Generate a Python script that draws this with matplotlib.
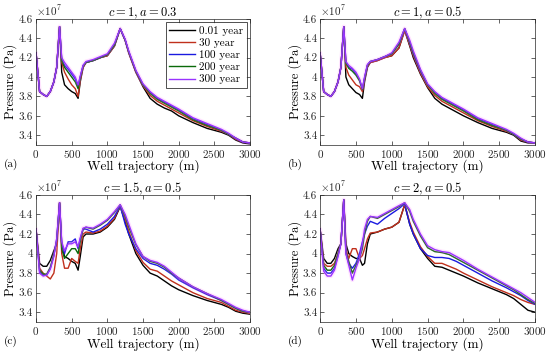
import numpy as np
import matplotlib
matplotlib.use('Agg')
import matplotlib.pyplot as plt

plt.rcParams['font.family'] = 'cmr10'
plt.rcParams['mathtext.fontset'] = 'cm'
plt.rcParams['axes.formatter.use_mathtext'] = True
plt.rcParams['axes.unicode_minus'] = False

# well trajectory nodes (m)
x = [0, 50, 100, 150, 200, 250, 290, 330, 360, 400, 450, 500, 550, 590, 620, 660, 700,
     800, 900, 1000, 1100, 1180, 1250, 1300, 1400, 1500, 1600, 1700, 1800, 1900, 2000,
     2200, 2400, 2600, 2700, 2800, 2900, 3000]

labels = ['0.01 year', '30 year', '100 year', '200 year', '300 year']
colors = ['#000000', '#c0301c', '#1a1ae0', '#0a6a0a', '#9933ff']
titles = ['$c=1, a=0.3$', '$c=1, a=0.5$', '$c=1.5, a=0.5$', '$c=2, a=0.5$']
tags = ['(a)', '(b)', '(c)', '(d)']
ytick_vals = [3.4, 3.6, 3.8, 4.0, 4.2, 4.4, 4.6]
ytick_text = ['3.4', '3.6', '3.8', '4', '4.2', '4.4', '4.6']

# pressure, x1e7 Pa
a_black = [4.25, 3.85, 3.82, 3.80, 3.85, 3.95, 4.10, 4.52, 4.05, 3.92, 3.88, 3.85, 3.83, 3.78, 3.95, 4.10, 4.15,
           4.17, 4.20, 4.22, 4.32, 4.50, 4.38, 4.25, 4.05, 3.90, 3.78, 3.72, 3.68, 3.65, 3.60,
           3.53, 3.47, 3.43, 3.40, 3.35, 3.32, 3.31]
a_red = [4.25, 3.85, 3.82, 3.80, 3.85, 3.95, 4.10, 4.52, 4.15, 4.05, 3.98, 3.92, 3.88, 3.80, 3.97, 4.10, 4.15,
         4.17, 4.20, 4.22, 4.32, 4.50, 4.38, 4.25, 4.05, 3.91, 3.81, 3.75, 3.71, 3.67, 3.63,
         3.55, 3.49, 3.44, 3.41, 3.36, 3.33, 3.32]
a_blue = [4.25, 3.85, 3.82, 3.80, 3.85, 3.95, 4.10, 4.52, 4.18, 4.12, 4.08, 4.03, 3.98, 3.90, 4.00, 4.12, 4.15,
          4.17, 4.20, 4.23, 4.33, 4.50, 4.38, 4.26, 4.06, 3.92, 3.84, 3.78, 3.74, 3.70, 3.66,
          3.57, 3.51, 3.45, 3.41, 3.37, 3.33, 3.32]
a_green = [4.25, 3.85, 3.82, 3.80, 3.85, 3.95, 4.10, 4.52, 4.17, 4.10, 4.05, 4.00, 3.95, 3.88, 3.99, 4.11, 4.15,
           4.17, 4.20, 4.23, 4.33, 4.50, 4.38, 4.26, 4.06, 3.92, 3.83, 3.77, 3.73, 3.69, 3.65,
           3.56, 3.50, 3.45, 3.41, 3.37, 3.33, 3.32]
a_purple = [4.25, 3.85, 3.82, 3.80, 3.85, 3.95, 4.10, 4.52, 4.20, 4.15, 4.10, 4.05, 4.00, 3.92, 4.01, 4.12, 4.16,
            4.18, 4.21, 4.24, 4.35, 4.50, 4.39, 4.27, 4.07, 3.93, 3.85, 3.79, 3.75, 3.71, 3.67,
            3.58, 3.52, 3.46, 3.42, 3.37, 3.33, 3.32]

b_black = [4.25, 3.85, 3.82, 3.80, 3.85, 3.95, 4.10, 4.52, 4.00, 3.92, 3.88, 3.84, 3.82, 3.78, 3.95, 4.10, 4.15,
           4.17, 4.20, 4.22, 4.30, 4.48, 4.32, 4.20, 4.03, 3.89, 3.78, 3.72, 3.68, 3.64, 3.60,
           3.53, 3.47, 3.43, 3.40, 3.34, 3.32, 3.32]
b_red = [4.25, 3.85, 3.82, 3.80, 3.85, 3.95, 4.10, 4.52, 4.10, 4.02, 3.97, 3.92, 3.90, 3.85, 3.97, 4.11, 4.15,
         4.17, 4.20, 4.22, 4.30, 4.48, 4.33, 4.22, 4.04, 3.90, 3.81, 3.75, 3.71, 3.67, 3.63,
         3.55, 3.49, 3.44, 3.41, 3.35, 3.33, 3.32]
b_blue = [4.25, 3.85, 3.82, 3.80, 3.85, 3.95, 4.10, 4.52, 4.15, 4.10, 4.08, 4.03, 3.97, 3.88, 3.99, 4.12, 4.16,
          4.18, 4.21, 4.24, 4.34, 4.50, 4.35, 4.24, 4.06, 3.92, 3.84, 3.78, 3.74, 3.70, 3.66,
          3.57, 3.51, 3.45, 3.41, 3.36, 3.33, 3.32]
b_green = [4.25, 3.85, 3.82, 3.80, 3.85, 3.95, 4.10, 4.52, 4.14, 4.09, 4.06, 4.02, 3.96, 3.87, 3.98, 4.12, 4.16,
           4.18, 4.21, 4.24, 4.34, 4.50, 4.36, 4.25, 4.07, 3.92, 3.83, 3.77, 3.73, 3.69, 3.65,
           3.56, 3.50, 3.45, 3.41, 3.36, 3.33, 3.32]
b_purple = [4.25, 3.85, 3.82, 3.80, 3.85, 3.95, 4.10, 4.52, 4.16, 4.12, 4.09, 4.05, 3.98, 3.88, 4.00, 4.13, 4.16,
            4.18, 4.21, 4.25, 4.36, 4.50, 4.38, 4.27, 4.08, 3.93, 3.85, 3.79, 3.75, 3.71, 3.67,
            3.58, 3.52, 3.46, 3.42, 3.37, 3.33, 3.32]

c_black = [4.25, 3.90, 3.87, 3.87, 3.93, 4.03, 4.10, 4.52, 4.10, 3.97, 3.95, 3.92, 3.90, 3.83, 3.97, 4.17, 4.20,
           4.20, 4.22, 4.27, 4.35, 4.48, 4.33, 4.20, 4.00, 3.88, 3.80, 3.77, 3.72, 3.67, 3.63,
           3.57, 3.52, 3.48, 3.45, 3.41, 3.39, 3.38]
c_red = [4.25, 3.85, 3.80, 3.77, 3.74, 3.80, 4.00, 4.52, 4.00, 3.85, 3.85, 3.95, 3.92, 3.90, 4.05, 4.20, 4.22,
         4.21, 4.23, 4.28, 4.36, 4.49, 4.35, 4.23, 4.03, 3.91, 3.84, 3.82, 3.77, 3.72, 3.68,
         3.60, 3.54, 3.50, 3.46, 3.42, 3.40, 3.39]
c_blue = [4.25, 3.82, 3.78, 3.78, 3.85, 3.98, 4.15, 4.52, 4.10, 4.00, 4.12, 4.12, 4.15, 4.05, 4.15, 4.25, 4.25,
          4.22, 4.25, 4.30, 4.38, 4.49, 4.30, 4.20, 4.05, 3.95, 3.90, 3.88, 3.84, 3.79, 3.73,
          3.65, 3.58, 3.52, 3.48, 3.44, 3.41, 3.40]
c_green = [4.25, 3.83, 3.79, 3.79, 3.86, 3.99, 4.13, 4.52, 4.05, 3.95, 4.00, 4.05, 4.05, 4.00, 4.12, 4.25, 4.27,
           4.25, 4.29, 4.34, 4.42, 4.50, 4.38, 4.27, 4.09, 3.97, 3.92, 3.90, 3.86, 3.80, 3.75,
           3.66, 3.59, 3.52, 3.48, 3.44, 3.41, 3.40]
c_purple = [4.25, 3.80, 3.77, 3.78, 3.84, 3.97, 4.15, 4.52, 4.12, 4.03, 4.10, 4.10, 4.12, 4.07, 4.16, 4.26, 4.27,
            4.26, 4.30, 4.35, 4.43, 4.50, 4.40, 4.30, 4.10, 3.97, 3.93, 3.91, 3.87, 3.81, 3.75,
            3.66, 3.59, 3.53, 3.49, 3.45, 3.42, 3.40]

d_black = [4.25, 3.95, 3.90, 3.90, 3.95, 4.05, 4.10, 4.55, 4.10, 4.00, 3.97, 3.95, 3.95, 3.88, 3.90, 4.10, 4.20,
           4.22, 4.25, 4.27, 4.32, 4.50, 4.30, 4.20, 4.05, 3.95, 3.87, 3.86, 3.83, 3.80, 3.77,
           3.70, 3.64, 3.58, 3.54, 3.48, 3.42, 3.40]
d_red = [4.25, 3.90, 3.87, 3.87, 3.90, 4.00, 4.10, 4.55, 4.05, 3.95, 4.05, 4.05, 3.95, 3.98, 4.05, 4.15, 4.21,
         4.22, 4.25, 4.27, 4.32, 4.50, 4.32, 4.22, 4.07, 3.97, 3.90, 3.90, 3.87, 3.84, 3.80,
         3.73, 3.66, 3.60, 3.57, 3.53, 3.50, 3.48]
d_blue = [4.25, 3.85, 3.80, 3.80, 3.85, 3.98, 4.10, 4.55, 4.00, 3.90, 3.85, 3.90, 4.00, 4.12, 4.20, 4.28, 4.33,
          4.30, 4.36, 4.41, 4.46, 4.51, 4.30, 4.20, 4.05, 3.98, 3.96, 3.96, 3.95, 3.92, 3.88,
          3.80, 3.72, 3.65, 3.61, 3.57, 3.52, 3.48]
d_green = [4.25, 3.88, 3.83, 3.83, 3.88, 4.00, 4.10, 4.55, 4.02, 3.92, 3.80, 3.88, 3.95, 4.05, 4.20, 4.33, 4.38,
           4.36, 4.40, 4.44, 4.48, 4.52, 4.43, 4.33, 4.18, 4.06, 4.02, 4.01, 3.99, 3.95, 3.91,
           3.83, 3.75, 3.67, 3.63, 3.58, 3.53, 3.49]
d_purple = [4.25, 3.82, 3.77, 3.77, 3.83, 3.97, 4.10, 4.55, 4.00, 3.88, 3.73, 3.85, 3.95, 4.10, 4.25, 4.35, 4.38,
            4.37, 4.41, 4.45, 4.49, 4.52, 4.45, 4.35, 4.20, 4.08, 4.04, 4.02, 4.01, 3.97, 3.93,
            3.84, 3.76, 3.68, 3.64, 3.60, 3.55, 3.50]

panels = [[a_black, a_red, a_blue, a_green, a_purple],
          [b_black, b_red, b_blue, b_green, b_purple],
          [c_black, c_red, c_blue, c_green, c_purple],
          [d_black, d_red, d_blue, d_green, d_purple]]

fig = plt.figure(figsize=(5.5, 3.56), dpi=100)
pos = [[0.0655, 0.593, 0.389, 0.354],
       [0.582, 0.593, 0.391, 0.354],
       [0.0655, 0.0955, 0.389, 0.357],
       [0.582, 0.0955, 0.391, 0.357]]

for i in range(4):
  ax = fig.add_axes(pos[i])
  for j in range(5):
    y = np.array(panels[i][j]) * 1e7
    if j == 4:
      ax.plot(x, y, color='#ff66ff', lw=3, alpha=0.18, solid_capstyle='round')
    ax.plot(x, y, color=colors[j], lw=1.0, label=labels[j])
  ax.set_xlim(0, 3000)
  ax.set_ylim(3.3e7, 4.6e7)
  ax.set_xticks(np.arange(0, 3001, 500))
  ax.set_yticks(np.array(ytick_vals) * 1e7)
  ax.set_yticklabels(ytick_text)
  ax.text(0.0, 1.01, r'$\times10^{7}$', transform=ax.transAxes, fontsize=8, color='#262626',
          ha='left', va='bottom')
  ax.tick_params(direction='in', length=3, width=0.5, top=True, right=True, labelsize=8, pad=2, colors='#262626')
  for s in ax.spines.values():
    s.set_linewidth(0.5)
    s.set_color('#262626')
  ax.set_title(titles[i], fontsize=9, pad=2)
  ax.set_xlabel('Well trajectory (m)', fontsize=9.5, labelpad=0)
  ax.set_ylabel('Pressure (Pa)', fontsize=9, labelpad=1)
  p = pos[i]
  fig.text(p[0] - 0.058, p[1] - 0.062, tags[i], fontsize=8)
  if i == 0:
    leg = ax.legend(loc='upper right', fontsize=8, frameon=True, fancybox=False,
                    edgecolor='black', handlelength=2.3, borderpad=0.3, labelspacing=0.2,
                    handletextpad=0.4, borderaxespad=0.3)
    leg.get_frame().set_linewidth(0.6)

fig.savefig('out.png', dpi=100)
